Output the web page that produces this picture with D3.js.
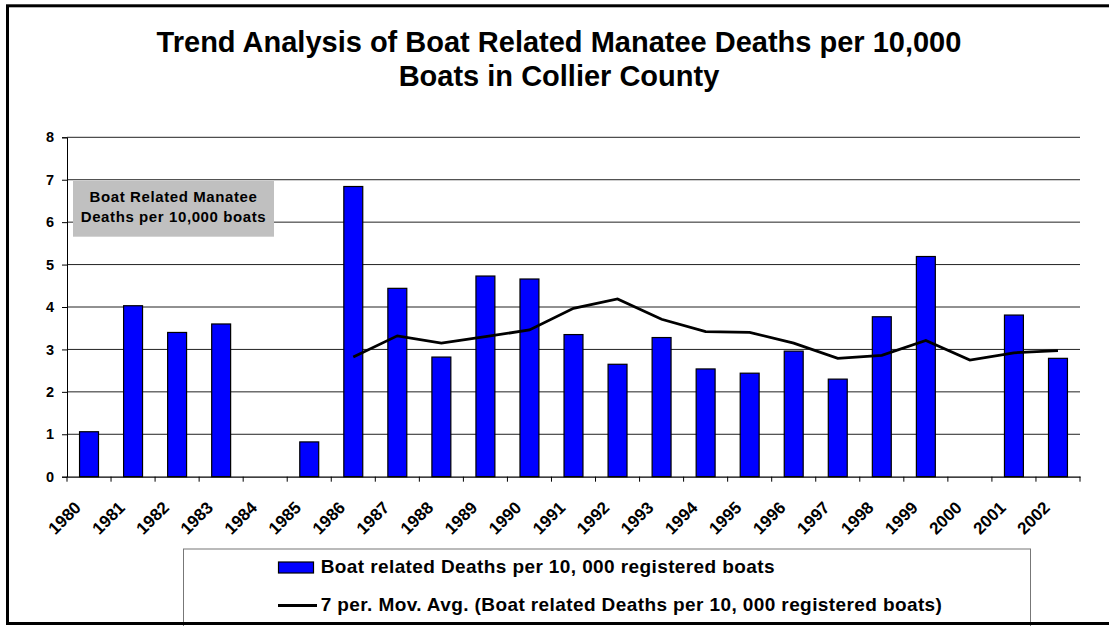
<!DOCTYPE html>
<html>
<head>
<meta charset="utf-8">
<script src="https://cdn.jsdelivr.net/npm/d3@7"></script>
<style>
  html, body { margin: 0; padding: 0; background: #fff; }
  svg { display: block; font-family: "Liberation Sans", Arial, sans-serif; font-weight: bold; }
</style>
</head>
<body>
<svg id="chart" width="1109" height="626"></svg>
<script>
const years = ["1980","1981","1982","1983","1984","1985","1986","1987","1988","1989","1990",
               "1991","1992","1993","1994","1995","1996","1997","1998","1999","2000","2001","2002"];
const deaths = [1.06, 4.03, 3.40, 3.60, null, 0.82, 6.84, 4.44, 2.82, 4.73, 4.66,
                3.35, 2.65, 3.28, 2.54, 2.44, 2.96, 2.30, 3.77, 5.19, null, 3.81, 2.79];
const movAvg = [null, null, null, null, null, null, 2.82, 3.32, 3.15, 3.30, 3.46,
                3.97, 4.19, 3.71, 3.42, 3.40, 3.15, 2.79, 2.86, 3.21, 2.75, 2.92, 2.97];
const yTicks = [0, 1, 2, 3, 4, 5, 6, 7, 8];
const titleLines = ["Trend Analysis of Boat Related Manatee Deaths per 10,000", "Boats in Collier County"];
const noteLines = ["Boat Related Manatee", "Deaths per 10,000 boats"];
const legendLabels = ["Boat related Deaths per 10, 000 registered boats",
                      "7 per. Mov. Avg. (Boat related Deaths per 10, 000 registered boats)"];

const svg = d3.select("#chart");
const plotL = 67, plotR = 1080, plotT = 137.3, plotB = 476.7;

const x = d3.scaleBand().domain(years).range([plotL, plotR]).padding(0);
const y = d3.scaleLinear().domain([0, 8]).range([plotB, plotT]);
const bw = x.bandwidth() * 0.43;

// outer frame
svg.append("rect")
    .attr("x", 7.5).attr("y", 5.8).attr("width", 1120).attr("height", 617.7)
    .attr("fill", "none").attr("stroke", "#000").attr("stroke-width", 3);

// title
svg.append("g").selectAll("text")
    .data(titleLines)
    .join("text")
    .attr("x", 559).attr("y", (d, i) => 51.7 + i * 34)
    .attr("text-anchor", "middle")
    .attr("font-size", 29)
    .text(d => d);

// gridlines
svg.append("g").selectAll("line")
    .data(yTicks.filter(t => t > 0))
    .join("line")
    .attr("x1", plotL).attr("x2", plotR)
    .attr("y1", d => y(d)).attr("y2", d => y(d))
    .attr("stroke", "#222").attr("stroke-width", 1);

// y axis
const yAxis = svg.append("g")
    .attr("transform", `translate(${plotL},0)`)
    .call(d3.axisLeft(y).tickValues(yTicks).tickSize(5).tickPadding(8).tickFormat(d3.format("d")));
yAxis.select(".domain").attr("stroke", "#000");
yAxis.selectAll(".tick line").attr("stroke", "#000");
yAxis.selectAll("text").attr("font-size", 14.5).attr("font-family", null).attr("font-weight", "bold").attr("fill", "#000");

// annotation box
const note = svg.append("g");
note.append("rect")
    .attr("x", 73).attr("y", 181).attr("width", 201).attr("height", 55.7)
    .attr("fill", "#c0c0c0");
note.selectAll("text")
    .data(noteLines)
    .join("text")
    .attr("x", 173.5).attr("y", (d, i) => 201.7 + i * 20)
    .attr("text-anchor", "middle")
    .attr("font-size", 15)
    .attr("letter-spacing", 0.6)
    .text(d => d);

// bars
svg.append("g").selectAll("rect")
    .data(years.map((yr, i) => ({ yr, v: deaths[i] })).filter(d => d.v != null))
    .join("rect")
    .attr("x", d => x(d.yr) + (x.bandwidth() - bw) / 2)
    .attr("y", d => y(d.v))
    .attr("width", bw)
    .attr("height", d => y(0) - y(d.v))
    .attr("fill", "#0000ff")
    .attr("stroke", "#000").attr("stroke-width", 1.2);

// moving average
const maData = years.map((yr, i) => ({ yr, v: movAvg[i] })).filter(d => d.v != null);
svg.append("path")
    .datum(maData)
    .attr("fill", "none")
    .attr("stroke", "#000")
    .attr("stroke-width", 2.8)
    .attr("d", d3.line().x(d => x(d.yr) + x.bandwidth() / 2).y(d => y(d.v)));

// x axis
const xAxis = svg.append("g")
    .attr("transform", `translate(0,${plotB})`)
    .call(d3.axisBottom(x).tickSize(0).tickPadding(0));
xAxis.select(".domain").attr("stroke", "#000").attr("stroke-width", 1.2);
xAxis.selectAll(".tick text")
    .attr("font-size", 17).attr("font-family", null).attr("font-weight", "bold").attr("fill", "#000")
    .attr("text-anchor", "end")
    .attr("dy", 0)
    .attr("transform", "translate(-7,32) rotate(-45)");
const edges = years.map(yr => x(yr)).concat([plotR]);
xAxis.append("g").selectAll("line")
    .data(edges)
    .join("line")
    .attr("x1", d => d).attr("x2", d => d)
    .attr("y1", 0).attr("y2", 5)
    .attr("stroke", "#000");

// legend
const lg = svg.append("g");
lg.append("rect")
    .attr("x", 183.5).attr("y", 549).attr("width", 847).attr("height", 80)
    .attr("fill", "#fff").attr("stroke", "#777").attr("stroke-width", 1);
lg.append("rect")
    .attr("x", 278.5).attr("y", 562).attr("width", 35).attr("height", 11)
    .attr("fill", "#0000ff").attr("stroke", "#000").attr("stroke-width", 1.2);
lg.append("line")
    .attr("x1", 278).attr("x2", 317).attr("y1", 605.5).attr("y2", 605.5)
    .attr("stroke", "#000").attr("stroke-width", 2.8);
lg.selectAll("text")
    .data(legendLabels)
    .join("text")
    .attr("x", 320.7).attr("y", (d, i) => 573 + i * 38)
    .attr("font-size", 19)
    .attr("letter-spacing", 0.4)
    .text(d => d);

// bottom frame edge drawn over legend
svg.append("line")
    .attr("x1", 6).attr("x2", 1109).attr("y1", 623.5).attr("y2", 623.5)
    .attr("stroke", "#000").attr("stroke-width", 3);
</script>
</body>
</html>
